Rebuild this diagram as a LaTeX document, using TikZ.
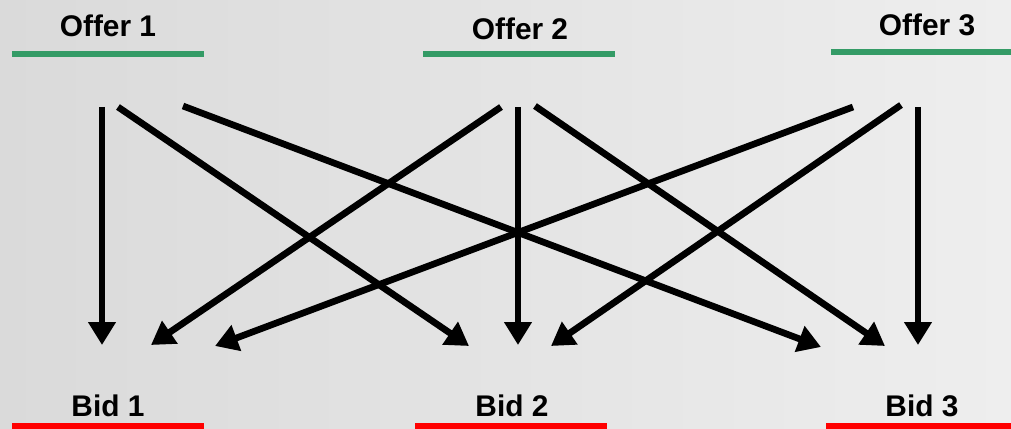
\documentclass[tikz,border=0pt]{standalone}
\usepackage{fontspec}
\setmainfont{Liberation Sans}
\usetikzlibrary{arrows.meta, positioning}
\definecolor{offergreen}{RGB}{52,155,102}
\definecolor{bgdark}{RGB}{218,218,218}
\definecolor{bglight}{RGB}{238,238,238}
\tikzset{
  x=0.02cm, y=-0.02cm, % one unit is one pixel of the reference
  title/.style={font=\bfseries\fontsize{17}{20}\selectfont, inner sep=0pt, anchor=base}, % offer and bid names
  offerline/.style={draw=offergreen, line width=3.6pt}, % green rule under an offer
  bidline/.style={draw=red, line width=3.8pt}, % red rule under a bid
  link/.style={-{Triangle[length=13pt, width=15pt]}, line width=3.8pt}, % black arrows
}
\begin{document}
\begin{tikzpicture}
    % background
    \shade[left color=bgdark, right color=bglight] (0,0) rectangle (1011,429);
    \useasboundingbox (0,0) rectangle (1011,429);

    % offers
    \node[title] (offer1) at (108,37) {Offer 1};
    \node[title] (offer2) at (520,40) {Offer 2};
    \node[title] (offer3) at (927,36) {Offer 3};
    \draw[offerline] (12,54) -- (204,54);
    \draw[offerline] (423,54) -- (615,54);
    \draw[offerline] (831,52) -- (1011,52);

    % bids
    \node[title] (bid1) at (108,416) {Bid 1};
    \node[title] (bid2) at (512,416) {Bid 2};
    \node[title] (bid3) at (922,416) {Bid 3};
    \draw[bidline] (12,426) -- (204,426);
    \draw[bidline] (415,426) -- (607,426);
    \draw[bidline] (826,426) -- (1011,426);

    % arrow ends
    \coordinate (o1a) at (102,107);
    \coordinate (o1b) at (118,107);
    \coordinate (o1c) at (183,106);
    \coordinate (o2a) at (501,107);
    \coordinate (o2b) at (518,107);
    \coordinate (o2c) at (535,106);
    \coordinate (o3a) at (853,107);
    \coordinate (o3b) at (901,105);
    \coordinate (o3c) at (918,107);
    \coordinate (b1a) at (102,345);
    \coordinate (b1b) at (151,345);
    \coordinate (b1c) at (215,346);
    \coordinate (b2a) at (469,346);
    \coordinate (b2b) at (518,345);
    \coordinate (b2c) at (551,346);
    \coordinate (b3a) at (821,347);
    \coordinate (b3b) at (885,346);
    \coordinate (b3c) at (918,345);

    \draw (o1a) edge[link] (b1a)
    (o1b) edge[link] (b2a)
    (o1c) edge[link] (b3a)
    (o2a) edge[link] (b1b)
    (o2b) edge[link] (b2b)
    (o2c) edge[link] (b3b)
    (o3a) edge[link] (b1c)
    (o3b) edge[link] (b2c)
    (o3c) edge[link] (b3c);

\end{tikzpicture}
\end{document}
